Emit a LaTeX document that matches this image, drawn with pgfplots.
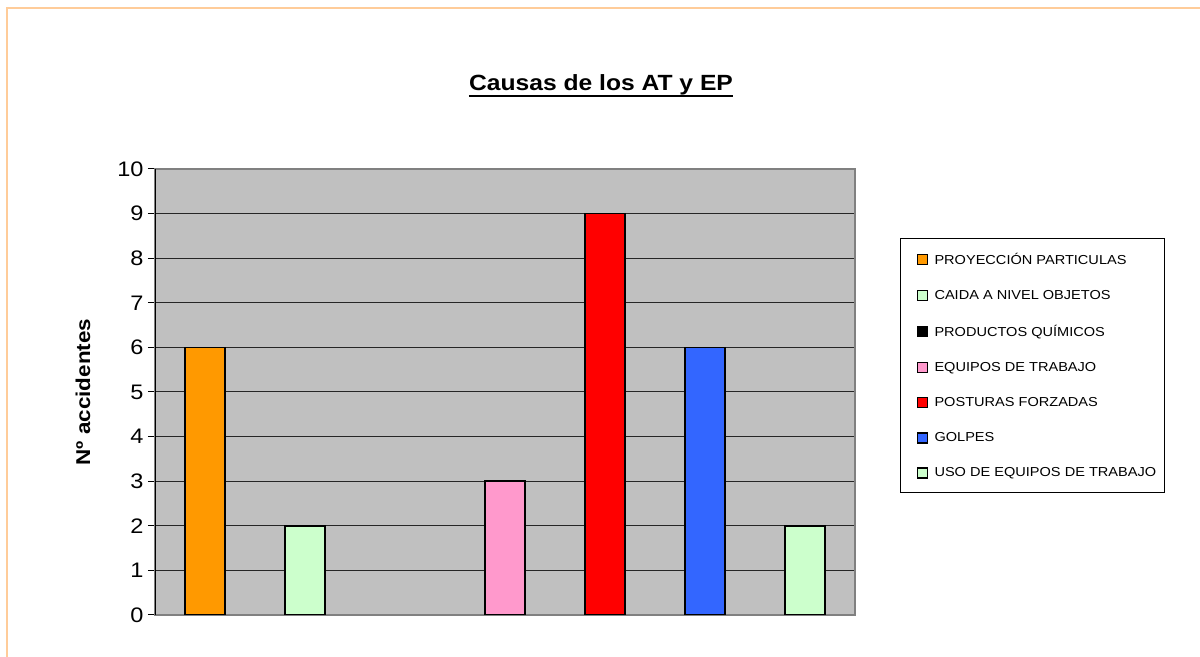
\documentclass[border=0pt]{standalone}
\usepackage{fontspec}
\setmainfont{Liberation Sans}[FakeStretch=1.12]
\usepackage{pgfplots}
\pgfplotsset{compat=1.18}
\definecolor{framec}{RGB}{255,204,153}
\definecolor{bggray}{RGB}{192,192,192}
\definecolor{axgray}{RGB}{128,128,128}
\definecolor{corange}{RGB}{255,153,0}
\definecolor{cgreen}{RGB}{204,255,204}
\definecolor{cpink}{RGB}{255,153,204}
\definecolor{cred}{RGB}{255,0,0}
\definecolor{cblue}{RGB}{51,102,255}
\begin{document}
\begin{tikzpicture}
\useasboundingbox (0,0) rectangle (1200bp,657bp);
\draw[color=framec, line width=1.5bp] (7bp,0) -- (7bp,649bp) -- (1200bp,649bp);
\node[anchor=base, inner sep=0pt, font=\fontsize{22bp}{26bp}\selectfont\bfseries] (t) at (601bp,566bp) {Causas de los AT y EP};
\draw[line width=2bp] ([yshift=-5bp]t.base west) -- ([yshift=-5bp]t.base east);
\begin{axis}[
  at={(155bp,42bp)}, anchor=south west,
  width=700bp, height=446bp, scale only axis,
  xmin=0, xmax=7, ymin=0, ymax=10,
  xtick=\empty,
  ytick={0,1,...,10},
  ytick pos=left,
  tick align=outside,
  major tick length=7bp,
  ytick style={black, line width=1bp},
  yticklabel style={font=\fontsize{21bp}{24bp}\selectfont, xshift=-1bp},
  /pgf/number format/assume math mode=true,
  ymajorgrids,
  grid style={black!85, line width=1bp},
  axis background/.style={fill=bggray},
  axis line style={axgray, line width=1.5bp},
  ylabel={Nº accidentes},
  every axis y label/.style={at={(axis description cs:-0.103,0.5)}, rotate=90, anchor=center,
    font=\fontsize{20bp}{24bp}\selectfont\bfseries},
  legend cell align=left,
  legend image code/.code={\path (-10bp,0bp) (14bp,0bp);
    \draw[#1, draw=black, line width=1.2bp] (0bp,-5bp) rectangle (10bp,5bp);},
  legend style={at={(axis description cs:1.0643,0.8453)}, anchor=north west,
    draw=black, line width=1bp, fill=white,
    font=\fontsize{13bp}{15bp}\selectfont,
    inner xsep=6.5bp, inner ysep=12.5bp, row sep=20.5bp},
]
\addplot[ybar, bar width=40bp, bar shift=0pt, fill=corange, draw=black, line width=1.5bp] coordinates {(0.5,6)};
\addlegendentry{PROYECCIÓN PARTICULAS}
\addplot[ybar, bar width=40bp, bar shift=0pt, fill=cgreen, draw=black, line width=1.5bp] coordinates {(1.5,2)};
\addlegendentry{CAIDA A NIVEL OBJETOS}
\addplot[ybar, bar width=40bp, bar shift=0pt, fill=black, draw=none, fill opacity=0,
  legend image code/.code={\path (-10bp,0bp) (14bp,0bp);
    \draw[draw=black, fill=black, fill opacity=1, line width=1.2bp] (0bp,-5bp) rectangle (10bp,5bp);}] coordinates {(2.5,0)};
\addlegendentry{PRODUCTOS QUÍMICOS}
\addplot[ybar, bar width=40bp, bar shift=0pt, fill=cpink, draw=black, line width=1.5bp] coordinates {(3.5,3)};
\addlegendentry{EQUIPOS DE TRABAJO}
\addplot[ybar, bar width=40bp, bar shift=0pt, fill=cred, draw=black, line width=1.5bp] coordinates {(4.5,9)};
\addlegendentry{POSTURAS FORZADAS}
\addplot[ybar, bar width=40bp, bar shift=0pt, fill=cblue, draw=black, line width=1.5bp] coordinates {(5.5,6)};
\addlegendentry{GOLPES}
\addplot[ybar, bar width=40bp, bar shift=0pt, fill=cgreen, draw=black, line width=1.5bp] coordinates {(6.5,2)};
\addlegendentry{USO DE EQUIPOS DE TRABAJO}
\draw[black, line width=1.5bp] (rel axis cs:0,0) -- (rel axis cs:0,1);
\end{axis}
\end{tikzpicture}
\end{document}
